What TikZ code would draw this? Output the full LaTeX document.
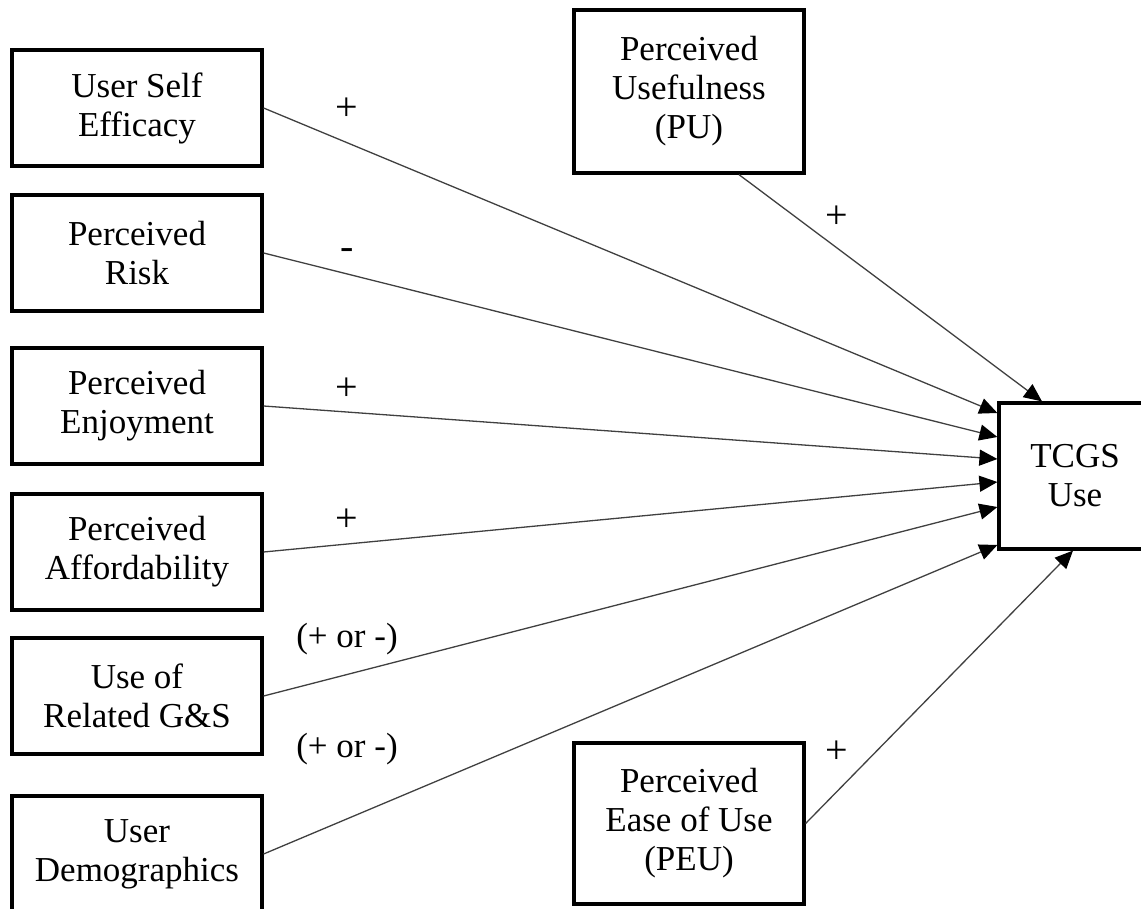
\documentclass[tikz,border=0pt]{standalone}
\usepackage{fontspec}
\setmainfont{Liberation Serif}
\usetikzlibrary{arrows.meta,calc}
\begin{document}
\begin{tikzpicture}[x=1pt,y=-1pt,
  box/.style={draw=black,line width=3.2pt,fill=white,align=center,inner sep=0pt,
    font=\fontsize{35}{39}\selectfont},
  leftbox/.style={box,minimum width=250pt,minimum height=116pt},
  conn/.style={draw=black!75,line width=1.3pt,-{Triangle[length=18pt,width=16pt,color=black]}},
  sign/.style={font=\fontsize{35}{39}\selectfont,inner sep=0pt},
  bigsign/.style={font=\fontsize{40}{44}\selectfont,inner sep=0pt}]
\useasboundingbox (0,0) rectangle (1141,909);
\clip (0,0) rectangle (1141,909);

\node[leftbox] (SE) at (137,108) {User Self\\Efficacy};
\node[leftbox] (PR) at (137,253) {Perceived\\Risk};
\node[leftbox] (PE) at (137,406) {Perceived\\Enjoyment};
\node[leftbox] (PA) at (137,552) {Perceived\\Affordability};
\node[leftbox] (RG) at (137,696) {Use of\\Related G\&S};
\node[leftbox] (UD) at (137,854) {User\\Demographics};

\node[box,minimum width=230pt,minimum height=163pt] (PU) at (689,91.5) {Perceived\\Usefulness\\(PU)};
\node[box,minimum width=230pt,minimum height=161pt] (PEU) at (689,823.5) {Perceived\\Ease of Use\\(PEU)};
\node[box,minimum width=152pt,minimum height=146pt] (T) at (1075,476) {TCGS\\Use};

\coordinate (t1) at ($(T.west)+(0,-63)$);
\coordinate (t2) at ($(T.west)+(0,-39)$);
\coordinate (t3) at ($(T.west)+(0,-17)$);
\coordinate (t4) at ($(T.west)+(0,6)$);
\coordinate (t5) at ($(T.west)+(0,31)$);
\coordinate (t6) at ($(T.west)+(0,69)$);
\coordinate (tpu) at ($(T.north)+(-33,0)$);
\coordinate (tpeu) at ($(T.south)+(-2,0)$);

\draw[conn] (SE.east) -- (t1);
\draw[conn] (PR.east) -- (t2);
\draw[conn] (PE.east) -- (t3);
\draw[conn] (PA.east) -- (t4);
\draw[conn] (RG.east) -- (t5);
\draw[conn] (UD.east) -- (t6);
\draw[conn] (PU.-59.5) -- (tpu);
\draw[conn] (PEU.east) -- (tpeu);

\node[bigsign] (l1) at (347,109) {+};
\node[bigsign] (l2) at (347,254) {-};
\node[bigsign] (l3) at (347,389) {+};
\node[bigsign] (l4) at (347,520) {+};
\node[sign] (l5) at (347,639) {(+ or -)};
\node[sign] (l6) at (347,749) {(+ or -)};
\node[bigsign] (l7) at (837,217) {+};
\node[bigsign] (l8) at (837,752) {+};
\end{tikzpicture}
\end{document}
